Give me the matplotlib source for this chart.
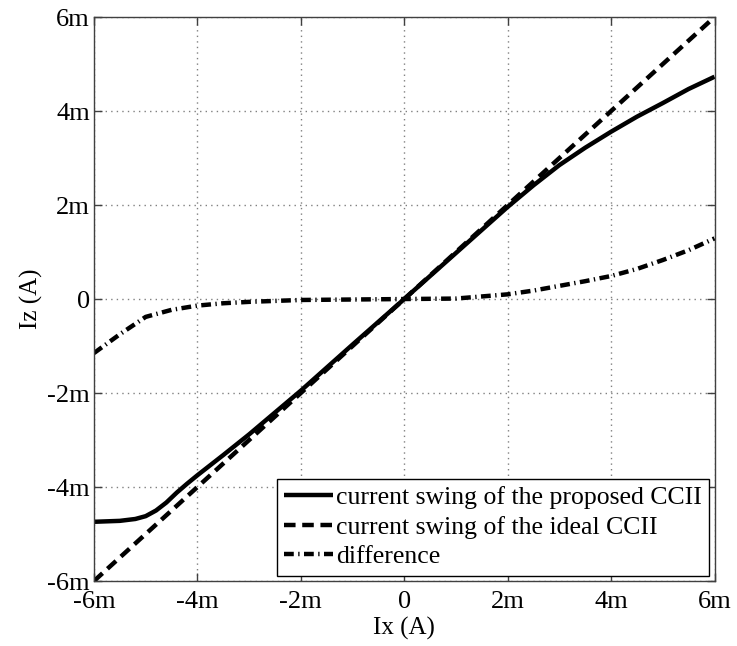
import matplotlib
matplotlib.use('Agg')
import matplotlib.pyplot as plt
from matplotlib.ticker import FuncFormatter

plt.rcParams['font.family'] = ['Liberation Serif', 'DejaVu Serif']

# dados (em mA, convertidos para A no gráfico)
ix_proposto = [-6, -5.5, -5.2, -5, -4.8, -4.6, -4.4, -4.2, -4, -3.5, -3, -2, -1, 0, 1, 2, 2.5, 3, 3.5, 4, 4.5, 5, 5.5, 6]
iz_proposto = [-4.74, -4.72, -4.68, -4.62, -4.5, -4.33, -4.12, -3.93, -3.75, -3.32, -2.88, -1.95, -0.97, 0, 0.98, 1.96, 2.42, 2.85, 3.22, 3.56, 3.88, 4.17, 4.47, 4.73]

ix_ideal = [-6, 6]
iz_ideal = [-6, 6]

ix_dif = [-6, -5.5, -5, -4.5, -4, -3.5, -3, -2, -1, 0, 1, 2, 2.5, 3, 3.5, 4, 4.5, 5, 5.5, 6]
iz_dif = [-1.15, -0.75, -0.38, -0.23, -0.14, -0.09, -0.06, -0.02, -0.01, 0, 0.01, 0.1, 0.18, 0.28, 0.38, 0.49, 0.64, 0.83, 1.04, 1.29]

ticks = [-6, -4, -2, 0, 2, 4, 6]

fig = plt.figure(figsize=(7.37, 6.46), dpi=100)
ax = fig.add_axes([0.1275, 0.1006, 0.842, 0.873])

ax.plot(ix_proposto, iz_proposto, color='black', lw=3.2, solid_capstyle='butt',
        label='current swing of the proposed CCII')
ax.plot(ix_ideal, iz_ideal, color='black', lw=3.2, dashes=(2.6, 1.5),
        label='current swing of the ideal CCII')
ax.plot(ix_dif, iz_dif, color='black', lw=3.2, dashes=(2.2, 1.0, 0.3, 1.0),
        label='difference')

ax.set_xlim(-6, 6)
ax.set_ylim(-6, 6)
ax.set_xticks(ticks)
ax.set_yticks(ticks)

fmt = FuncFormatter(lambda v, p: '0' if v == 0 else '%dm' % v)
ax.xaxis.set_major_formatter(fmt)
ax.yaxis.set_major_formatter(fmt)

ax.tick_params(direction='in', top=True, right=True, length=6, width=1,
               color='#404040', labelsize=19, pad=3)
ax.tick_params(axis='x', pad=7)
ax.grid(True, color='#808080', linestyle=(0, (1, 3)), linewidth=1)
for s in ax.spines.values():
    s.set_color('#404040')
    s.set_linewidth(1)

ax.set_xlabel('Ix (A)', fontsize=18, labelpad=3)
ax.set_ylabel('Iz (A)', fontsize=18, labelpad=3)

leg = ax.legend(loc='lower right', fontsize=18.5, handlelength=1.9, handletextpad=0.1,
                borderpad=0.3, labelspacing=0.25, borderaxespad=0.2, fancybox=False,
                framealpha=1)
leg.get_frame().set_edgecolor('black')
leg.get_frame().set_linewidth(1)

plt.savefig('out.png', dpi=100)
plt.close(fig)
